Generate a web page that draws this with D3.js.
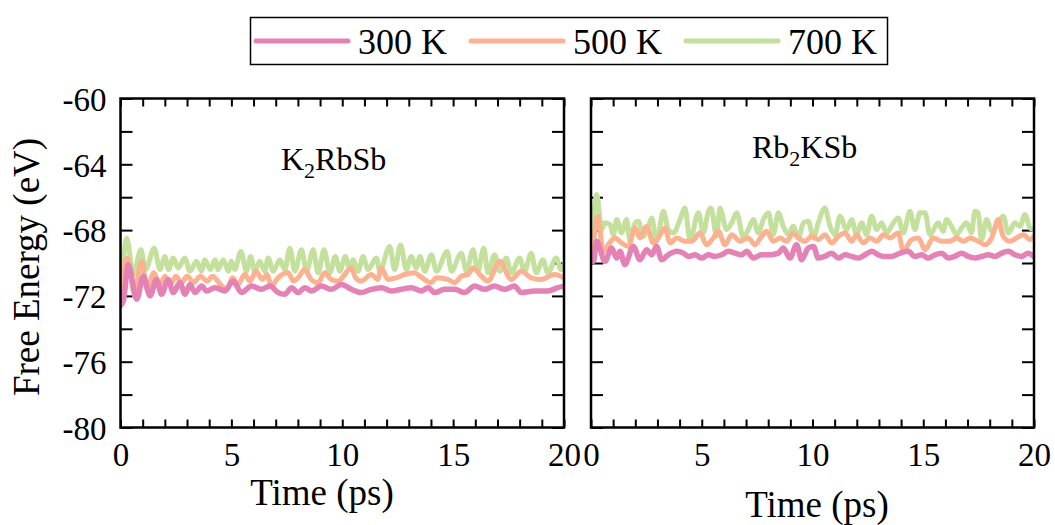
<!DOCTYPE html>
<html>
<head>
<meta charset="utf-8">
<script src="https://cdn.jsdelivr.net/npm/d3@7"></script>
<style>
  html, body { margin: 0; padding: 0; background: #fff; }
  svg { display: block; }
</style>
</head>
<body>
<svg id="chart" width="1055" height="525"></svg>
<script>
// ---- data: free energy (eV) vs. time (ps), [time, energy] ----
const temperatures = ["300 K", "500 K", "700 K"];
const compounds = ["K2RbSb", "Rb2KSb"];
const yTicksMajor = [-80, -76, -72, -68, -64, -60];
const yTicksMinor = [-78, -74, -70, -66, -62];
const xTicksMajor = [0, 5, 10, 15, 20];

const k2rbsb300 = [[0,-72.6],[0.13,-72.3],[0.35,-70.1],[0.73,-72.2],[1.03,-70.8],[1.33,-72.0],[1.63,-71.0],[1.85,-71.9],[2.15,-71.0],[2.38,-71.8],[2.68,-71.2],[2.91,-71.9],[3.13,-71.3],[3.36,-71.8],[3.66,-71.4],[3.88,-71.7],[4.26,-71.5],[4.71,-71.7],[5.08,-71.1],[5.46,-71.8],[5.91,-71.4],[6.36,-71.6],[6.74,-71.4],[7.11,-71.8],[7.41,-71.9],[7.71,-71.5],[8.01,-71.8],[8.31,-71.5],[8.61,-71.7],[9.06,-71.4],[9.51,-71.6],[9.96,-71.3],[10.41,-71.6],[10.86,-71.8],[11.31,-71.6],[11.76,-71.5],[12.21,-71.7],[12.66,-71.6],[13.11,-71.5],[13.57,-71.7],[13.87,-71.5],[14.17,-71.8],[14.62,-71.6],[15.07,-71.6],[15.52,-71.8],[15.97,-71.4],[16.42,-71.6],[16.87,-71.4],[17.32,-71.6],[17.77,-71.4],[18.07,-71.8],[18.67,-71.7],[19.27,-71.7],[19.72,-71.5],[20.0,-71.4]];
const k2rbsb500 = [[0,-72.2],[0.3,-69.7],[0.62,-71.8],[0.95,-69.9],[1.2,-71.6],[1.5,-70.6],[1.75,-71.4],[2.0,-70.8],[2.25,-71.3],[2.5,-70.8],[2.75,-71.2],[3.0,-70.8],[3.3,-71.2],[3.6,-70.8],[3.9,-71.1],[4.15,-70.8],[4.5,-71.3],[4.8,-71.6],[5.05,-70.9],[5.3,-71.3],[5.6,-70.7],[5.85,-71.1],[6.1,-70.5],[6.4,-71.0],[6.6,-70.7],[6.81,-71.4],[7.1,-70.9],[7.56,-70.6],[7.8,-71.1],[8.01,-70.9],[8.3,-70.4],[8.6,-71.0],[8.91,-71.2],[9.21,-70.6],[9.5,-71.0],[9.81,-71.1],[10.41,-70.3],[10.6,-70.9],[10.86,-71.1],[11.31,-70.7],[11.6,-71.0],[11.76,-70.3],[12.06,-71.0],[12.43,-70.9],[12.81,-70.7],[13.26,-70.6],[13.5,-70.8],[14.0,-71.2],[14.25,-70.9],[14.77,-71.0],[15.07,-71.2],[15.37,-70.8],[15.67,-70.7],[15.9,-70.3],[16.27,-70.8],[16.57,-71.1],[17.1,-69.9],[17.62,-71.0],[18.07,-70.5],[18.52,-70.9],[18.97,-71.0],[19.57,-70.7],[20.0,-70.9]];
const k2rbsb700 = [[0,-72.4],[0.28,-68.5],[0.58,-70.7],[0.92,-69.2],[1.13,-70.4],[1.52,-69.1],[1.78,-70.4],[2.0,-69.6],[2.17,-70.4],[2.38,-69.7],[2.6,-70.3],[2.9,-69.7],[3.13,-70.5],[3.43,-69.9],[3.65,-70.5],[3.8,-69.8],[4.05,-70.4],[4.26,-69.8],[4.4,-70.4],[4.63,-69.8],[4.87,-70.5],[5.0,-69.9],[5.15,-70.4],[5.43,-69.3],[5.68,-70.5],[5.87,-69.6],[6.05,-70.5],[6.28,-69.9],[6.5,-70.5],[6.66,-69.7],[6.89,-70.5],[7.19,-69.8],[7.41,-70.4],[7.64,-69.1],[7.86,-70.5],[8.16,-69.2],[8.39,-70.5],[8.69,-69.2],[8.91,-70.6],[9.18,-69.2],[9.44,-70.6],[9.69,-69.6],[9.89,-70.5],[10.14,-69.6],[10.34,-70.4],[10.49,-69.8],[10.71,-70.5],[10.94,-69.6],[11.16,-70.4],[11.54,-69.7],[11.69,-70.5],[12.14,-69.0],[12.36,-70.4],[12.63,-68.9],[12.89,-70.4],[13.11,-69.6],[13.34,-70.3],[13.5,-69.6],[13.72,-70.5],[14.02,-69.5],[14.25,-70.5],[14.73,-69.3],[14.92,-70.5],[15.37,-69.4],[15.6,-70.5],[15.9,-69.2],[16.12,-70.5],[16.38,-69.1],[16.57,-70.6],[16.87,-69.5],[17.1,-70.5],[17.4,-69.7],[17.62,-70.6],[18.0,-69.7],[18.22,-70.5],[18.52,-69.4],[18.75,-70.6],[19.05,-69.8],[19.27,-70.6],[19.65,-69.7],[19.87,-70.4],[20.0,-70.1]];

const rb2ksb300 = [[0,-69.9],[0.11,-69.9],[0.26,-68.68],[0.63,-69.9],[0.93,-69.09],[1.16,-69.7],[1.31,-69.29],[1.53,-70.1],[1.91,-68.99],[2.21,-69.8],[2.51,-69.19],[2.74,-69.5],[2.96,-68.99],[3.19,-69.8],[3.49,-69.5],[3.87,-69.29],[4.17,-69.4],[4.4,-69.6],[4.7,-69.5],[5.0,-69.7],[5.3,-69.5],[5.6,-69.6],[5.9,-69.5],[6.2,-69.29],[6.5,-69.4],[6.8,-69.5],[7.03,-69.29],[7.33,-69.7],[7.7,-69.5],[8.08,-69.5],[8.46,-69.4],[8.68,-69.09],[8.98,-69.7],[9.28,-68.89],[9.51,-69.8],[9.81,-69.09],[10.04,-68.99],[10.26,-69.7],[10.56,-69.6],[10.86,-69.4],[11.17,-69.7],[11.47,-69.5],[11.77,-69.6],[12.07,-69.7],[12.37,-69.5],[12.67,-69.29],[12.97,-69.5],[13.2,-69.6],[13.57,-69.6],[13.95,-69.4],[14.32,-69.29],[14.62,-69.6],[14.93,-69.5],[15.23,-69.7],[15.53,-69.5],[15.83,-69.4],[16.13,-69.7],[16.43,-69.6],[16.73,-69.4],[17.03,-69.6],[17.33,-69.7],[17.63,-69.6],[17.94,-69.5],[18.24,-69.6],[18.54,-69.4],[18.84,-69.29],[19.14,-69.5],[19.44,-69.6],[19.74,-69.4],[20.0,-69.6]];
const rb2ksb500 = [[0,-69.8],[0.03,-69.6],[0.3,-67.16],[0.56,-69.29],[0.78,-68.89],[1.08,-68.48],[1.38,-68.78],[1.69,-68.99],[1.99,-67.87],[2.21,-68.48],[2.51,-67.77],[2.81,-68.78],[3.04,-68.48],[3.34,-67.87],[3.57,-68.78],[3.87,-68.48],[4.24,-68.68],[4.55,-68.68],[4.92,-68.17],[5.22,-68.89],[5.52,-68.48],[5.75,-68.07],[6.05,-68.89],[6.35,-68.28],[6.73,-68.68],[7.1,-68.48],[7.4,-68.89],[7.7,-68.38],[7.93,-68.07],[8.23,-68.68],[8.53,-68.48],[8.83,-68.68],[9.13,-68.17],[9.36,-68.48],[9.66,-68.68],[9.96,-68.38],[10.26,-68.58],[10.56,-68.28],[10.86,-68.78],[11.17,-68.38],[11.47,-68.17],[11.77,-68.68],[11.99,-68.28],[12.29,-68.78],[12.6,-68.48],[12.9,-68.68],[13.2,-68.28],[13.5,-68.48],[13.87,-68.17],[14.1,-69.29],[14.47,-68.58],[14.78,-68.48],[15.08,-69.19],[15.45,-68.48],[15.83,-68.68],[16.2,-68.68],[16.51,-68.48],[16.81,-68.68],[17.11,-68.48],[17.48,-68.68],[17.79,-68.89],[18.09,-68.48],[18.39,-67.36],[18.61,-68.38],[18.91,-68.68],[19.21,-68.48],[19.52,-68.28],[19.82,-68.58],[20.0,-68.38]];
const rb2ksb700 = [[0,-69.6],[0.03,-69.0],[0.26,-65.84],[0.48,-67.97],[0.63,-67.56],[0.86,-67.67],[1.01,-68.28],[1.16,-67.36],[1.38,-68.17],[1.61,-67.36],[1.76,-68.68],[1.99,-67.56],[2.14,-67.46],[2.36,-68.38],[2.59,-67.77],[2.74,-67.26],[2.96,-68.68],[3.27,-66.85],[3.49,-67.97],[3.72,-68.17],[4.02,-67.36],[4.24,-66.65],[4.47,-68.58],[4.85,-66.95],[5.07,-68.17],[5.3,-66.85],[5.42,-66.65],[5.67,-68.38],[5.82,-66.65],[6.12,-67.97],[6.35,-67.56],[6.58,-66.95],[6.88,-68.48],[7.1,-67.97],[7.33,-67.36],[7.55,-68.17],[7.78,-67.36],[8.01,-66.95],[8.23,-68.28],[8.46,-66.95],[8.68,-67.77],[8.91,-68.28],[9.13,-67.77],[9.36,-68.48],[9.59,-67.56],[9.81,-67.46],[10.04,-68.48],[10.26,-67.56],[10.56,-66.65],[10.79,-67.77],[11.02,-68.28],[11.24,-67.16],[11.54,-67.97],[11.77,-67.36],[11.99,-68.28],[12.22,-67.56],[12.44,-68.28],[12.67,-67.16],[12.9,-67.97],[13.12,-67.56],[13.35,-68.17],[13.65,-67.56],[13.87,-67.26],[14.1,-68.17],[14.4,-66.85],[14.62,-67.97],[14.85,-66.95],[15.08,-66.95],[15.3,-68.28],[15.68,-67.56],[15.9,-68.07],[16.05,-67.36],[16.28,-67.77],[16.51,-68.28],[16.73,-67.87],[16.96,-67.56],[17.18,-68.17],[17.33,-66.85],[17.48,-66.95],[17.63,-68.58],[17.86,-67.36],[18.09,-68.07],[18.39,-67.56],[18.61,-67.16],[18.84,-68.17],[19.14,-67.56],[19.37,-67.77],[19.59,-67.05],[19.82,-67.87],[20.0,-67.97]];

const colors = ["#e482b5", "#fcb190", "#c4e09d"];
const serif = "'Liberation Serif', 'Times New Roman', serif";

// ---- layout ----
const svg = d3.select("#chart");
const plotTop = 98.5, plotBottom = 427.5;
const panels = [
  { name: compounds[0], left: 120.5, right: 564, series: [k2rbsb300, k2rbsb500, k2rbsb700],
    label: { x: 281, y: 170 }, title: { x: 322, y: 505 } },
  { name: compounds[1], left: 591, right: 1034, series: [rb2ksb300, rb2ksb500, rb2ksb700],
    label: { x: 752, y: 158 }, title: { x: 817, y: 517 } }
];

const y = d3.scaleLinear().domain([-80, -60]).range([plotBottom, plotTop]);

svg.append("defs").selectAll("clipPath").data(panels).join("clipPath")
  .attr("id", (d, i) => "clip" + i)
  .append("rect")
  .attr("x", d => d.left).attr("y", plotTop)
  .attr("width", d => d.right - d.left).attr("height", plotBottom - plotTop);

panels.forEach((p, i) => {
  const x = d3.scaleLinear().domain([0, 20]).range([p.left, p.right]);
  const g = svg.append("g");

  // ticks (inward on all four sides)
  const ax = (gen, tr, vals, size, labels) => {
    const a = g.append("g").attr("transform", tr)
      .call(gen.tickValues(vals).tickSize(size).tickPadding(14)
        .tickFormat(labels ? (d => String(d)) : ""));
    a.select(".domain").remove();
    a.attr("font-family", serif).attr("font-size", 33);
    a.selectAll("line").attr("stroke", "#000").attr("stroke-width", 2);
    a.selectAll("text").style("font-family", serif).style("font-size", "33px").attr("fill", "#000");
    return a;
  };
  const xMinor = d3.range(1, 20).filter(v => v % 5 !== 0);
  ax(d3.axisBottom(x), `translate(0,${plotBottom})`, xTicksMajor, -8, true)
    .selectAll("text").attr("dy", "0.74em");
  ax(d3.axisBottom(x), `translate(0,${plotBottom})`, xMinor, -8, false);
  ax(d3.axisTop(x), `translate(0,${plotTop})`, xTicksMajor.concat(xMinor), -8, false);
  ax(d3.axisLeft(y), `translate(${p.left},0)`, yTicksMajor, -12, i === 0)
    .selectAll("text").attr("dy", "0.36em");
  ax(d3.axisLeft(y), `translate(${p.left},0)`, yTicksMinor, -12, false);
  ax(d3.axisRight(y), `translate(${p.right},0)`, yTicksMajor.concat(yTicksMinor), -12, false);

  // series, 700 K drawn first so the cooler runs sit on top
  const line = d3.line().x(d => x(d[0])).y(d => y(d[1])).curve(d3.curveMonotoneX);
  const lines = g.append("g").attr("clip-path", `url(#clip${i})`);
  [2, 1, 0].forEach(k => {
    lines.append("path").datum(p.series[k])
      .attr("d", line)
      .attr("fill", "none")
      .attr("stroke", colors[k])
      .attr("stroke-width", k === 0 ? 5.5 : 5)
      .attr("stroke-linejoin", "round")
      .attr("stroke-linecap", "round");
  });

  // frame
  g.append("rect")
    .attr("x", p.left).attr("y", plotTop)
    .attr("width", p.right - p.left).attr("height", plotBottom - plotTop)
    .attr("fill", "none").attr("stroke", "#000").attr("stroke-width", 2.5);

  // compound label with subscript
  const m = p.name.match(/^(\D+)(\d)(.*)$/);
  const t = g.append("text").attr("x", p.label.x).attr("y", p.label.y)
    .style("font-family", serif).style("font-size", "32px");
  t.append("tspan").text(m[1]);
  t.append("tspan").attr("dy", 8).style("font-size", "22px").text(m[2]);
  t.append("tspan").attr("dy", -8).text(m[3]);

  // x title
  g.append("text").attr("x", p.title.x).attr("y", p.title.y)
    .attr("text-anchor", "middle")
    .style("font-family", serif).style("font-size", "37px").text("Time (ps)");
});

// y title
svg.append("text")
  .attr("transform", "translate(39,267) rotate(-90)")
  .attr("text-anchor", "middle")
  .style("font-family", serif).style("font-size", "37px")
  .text("Free Energy (eV)");

// legend
const lg = svg.append("g");
lg.append("rect").attr("x", 250.5).attr("y", 17.5).attr("width", 637).attr("height", 47)
  .attr("fill", "#fff").attr("stroke", "#000").attr("stroke-width", 1.5);
const legendX = [256, 471, 686];
temperatures.forEach((name, k) => {
  lg.append("line")
    .attr("x1", legendX[k]).attr("x2", legendX[k] + 92)
    .attr("y1", 41).attr("y2", 41)
    .attr("stroke", colors[k]).attr("stroke-width", 5).attr("stroke-linecap", "round");
  lg.append("text").attr("x", legendX[k] + 102).attr("y", 54)
    .style("font-family", serif).style("font-size", "36px").text(name);
});
</script>
</body>
</html>
